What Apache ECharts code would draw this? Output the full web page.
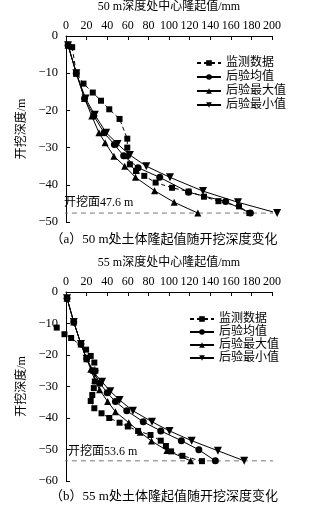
<!DOCTYPE html>
<html><head><meta charset="utf-8">
<script src="https://cdn.jsdelivr.net/npm/echarts@6/dist/echarts.min.js"></script>
<style>html,body{margin:0;padding:0;background:#fff}#c{width:328px;height:511px}</style>
</head><body><div id="c"></div>
<script>
// ---------- data ----------
const seriesNames = ['监测数据','后验均值','后验最大值','后验最小值'];
const xTicks = [0,20,40,60,80,100,120,140,160,180,200];
// chart (a) 50 m : [uplift mm, depth m]
const a_monitor = [[6,-3],[10,-10],[17,-12.8],[26,-15.2],[34,-17.4],[42,-19.7],[52,-22.3],[59.5,-27.6],[59.5,-30],[58.5,-32.3],[62,-34.5],[68,-36.3],[76,-37.6],[87,-39.4],[103,-40.8],[119,-41.8],[134,-43.2],[148,-44.4],[168,-45.8],[178,-47.6]];
const a_mean = [[2,-2.5],[10,-10],[18,-16.8],[27,-21.5],[37,-26],[47,-29.2],[56,-32.2],[70,-35.4],[91,-38],[119,-42],[155,-44.5],[179,-47.6]];
const a_max = [[2,-2.5],[10,-10],[18,-16.8],[25,-21.5],[32,-26],[38,-28.7],[46.5,-32.3],[57,-35],[67.5,-38],[86,-41.6],[105,-44.7],[128,-47.6]];
const a_min = [[2,-2.5],[10,-10],[19,-16.8],[28,-21.2],[39,-26],[50,-29],[62,-32],[78,-35],[101,-38],[133,-41.7],[167,-44.7],[205,-47.6]];
const a_depth = -47.6;
// chart (b) 55 m
const b_monitor = [[-9,-11.3],[-1.5,-13.4],[5,-14.6],[19.5,-18.3],[24,-20.3],[27.5,-22.4],[28.5,-25],[28,-28.4],[27,-30.5],[25.5,-32.7],[24,-34.6],[27.5,-36.9],[34.5,-38.5],[42,-40],[52,-41.5],[60,-42.7],[70,-44.1],[82,-45.4],[92,-47.2],[97,-48.9],[102,-50.6],[113,-52],[132,-53.7]];
const b_mean = [[1,-2],[7.5,-9.5],[14.5,-16.5],[20,-21.2],[26,-25],[33,-29],[40,-32],[48,-34.8],[59,-37.7],[75,-41.2],[92,-44.1],[112,-47.2],[129,-50.1],[145,-53.6]];
const b_max = [[1,-2],[7.5,-9.5],[14.5,-16.5],[20,-21.2],[24,-24.5],[28,-28],[32.6,-31],[40.4,-34.8],[48,-38],[61,-41.5],[72,-44.5],[83,-47.3],[98,-50.3],[121,-53.6]];
const b_min = [[1,-2],[7.5,-9.5],[14.5,-16.5],[20,-21.2],[28,-26],[35,-28.5],[43,-31.5],[52,-34.3],[65,-37.7],[83.5,-41.2],[100.5,-44.1],[122,-47.2],[147.5,-50.4],[173,-53.6]];
const b_depth = -53.6;
const refSpan = [-3, 213];

// ---------- chart ----------
const FONT = '"Liberation Serif","Noto Sans CJK SC",serif';
const chart = echarts.init(document.getElementById('c'), null, {renderer:'canvas'});
const symbols = ['rect','circle','triangle','path://M0,0 L10,0 L5,9 Z'];
const styles = (i) => ({
  type:'line', symbol:symbols[i], symbolSize:i===0?6:(i===3?8:7),
  itemStyle:{color:'#000'},
  lineStyle:{color:'#000', width:1, type:i===0?[4,3]:'solid'},
  clip:false, animation:false, z:3
});
function xAx(gi, name){
  return {gridIndex:gi, type:'value', position:'top', min:0, max:200, interval:20,
    name:name, nameLocation:'middle', nameGap:23,
    nameTextStyle:{fontFamily:FONT, fontSize:12, color:'#000'},
    axisLine:{lineStyle:{color:'#000'}}, axisTick:{inside:true, length:4, lineStyle:{color:'#000'}},
    axisLabel:{fontFamily:FONT, fontSize:12, color:'#000', margin:4}, splitLine:{show:false}};
}
function yAx(gi, min){
  return {gridIndex:gi, type:'value', min:min, max:0, interval:10,
    name:'开挖深度/m', nameLocation:'middle', nameGap:35, nameRotate:90,
    nameTextStyle:{fontFamily:FONT, fontSize:12, color:'#000'},
    axisLine:{show:true, onZero:false, lineStyle:{color:'#000'}}, axisTick:{inside:true, length:4, lineStyle:{color:'#000'}},
    axisLabel:{fontFamily:FONT, fontSize:12.5, color:'#000', margin:8, formatter:v=>v<0?'\u2212'+Math.abs(v):String(v)},
    splitLine:{show:false}};
}
const A = [a_monitor,a_mean,a_max,a_min], B = [b_monitor,b_mean,b_max,b_min];
const series = [];
A.forEach((d,i)=>series.push(Object.assign(styles(i),{name:seriesNames[i], xAxisIndex:0, yAxisIndex:0, data:d})));
B.forEach((d,i)=>series.push(Object.assign(styles(i),{name:seriesNames[i], xAxisIndex:1, yAxisIndex:1, data:d})));
series.push({type:'line', xAxisIndex:0, yAxisIndex:0, data:refSpan.map(x=>[x,a_depth]), symbol:'none', clip:false, animation:false,
  lineStyle:{color:'#777', width:1, type:[5,4]}, silent:true, z:1});
series.push({type:'line', xAxisIndex:1, yAxisIndex:1, data:refSpan.map(x=>[x,b_depth]), symbol:'none', clip:false, animation:false,
  lineStyle:{color:'#777', width:1, type:[5,4]}, silent:true, z:1});

const legendCommon = {orient:'vertical', itemWidth:24, itemHeight:7, data:seriesNames,
  selectedMode:false};

chart.setOption({
  animation:false,
  grid:[{left:66, top:33, width:206, height:189},{left:66, top:292, width:206, height:189}],
  xAxis:[xAx(0,'50 m深度处中心隆起值/mm'), xAx(1,'55 m深度处中心隆起值/mm')],
  yAxis:[yAx(0,-50), yAx(1,-60)],
  legend:[Object.assign({}, legendCommon, {left:191, top:52, itemGap:2, textStyle:{fontFamily:FONT, fontSize:12, color:'#000', lineHeight:12}}),
          Object.assign({}, legendCommon, {left:184, top:308, itemGap:1, textStyle:{fontFamily:FONT, fontSize:12, color:'#000', lineHeight:12}})],
  series:series,
  graphic:[
    {type:'text', left:64, top:197, style:{text:'开挖面47.6 m', font:'12px '+FONT, fill:'#000'}},
    {type:'text', left:68, top:446, style:{text:'开挖面53.6 m', font:'12px '+FONT, fill:'#000'}},
    {type:'text', left:'center', top:233, style:{text:'（a）50 m处土体隆起值随开挖深度变化', font:'13px '+FONT, fill:'#000'}},
    {type:'text', left:'center', top:490, style:{text:'（b）55 m处土体隆起值随开挖深度变化', font:'13px '+FONT, fill:'#000'}}
  ]
});
</script></body></html>
